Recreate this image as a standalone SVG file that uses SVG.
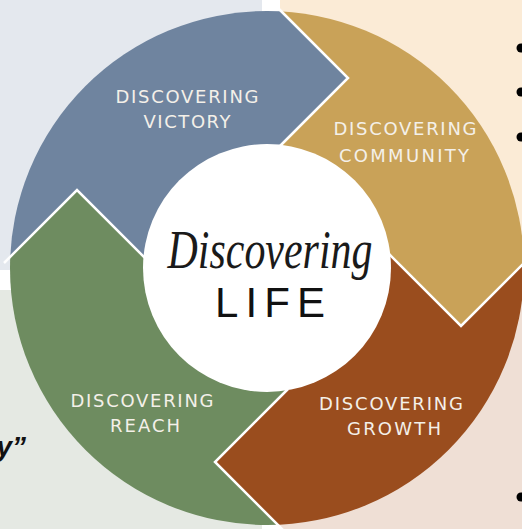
<svg xmlns="http://www.w3.org/2000/svg" width="522" height="529" viewBox="0 0 522 529">
<style>
.lbl{font-family:"DejaVu Sans","Liberation Sans",sans-serif;font-size:18px;fill:#f4f0e9;text-anchor:middle}
.sep{fill:none;stroke:#ffffff;stroke-width:2.5;stroke-linejoin:miter}
.dot{fill:#000}
</style>
<defs>
<clipPath id="ring"><circle cx="267" cy="268" r="257"/></clipPath>
</defs>
<rect width="522" height="529" fill="#ffffff"/>
<rect x="0" y="0" width="262" height="270" fill="#e4e8ee"/>
<rect x="280" y="0" width="242" height="280" fill="#fbebd6"/>
<rect x="0" y="290" width="262" height="239" fill="#e5e9e3"/>
<rect x="280" y="290" width="242" height="239" fill="#efdfd5"/>
<circle class="dot" cx="521" cy="48" r="4.5"/>
<circle class="dot" cx="521" cy="92" r="4.5"/>
<circle class="dot" cx="521" cy="137" r="4.5"/>
<circle class="dot" cx="521" cy="497" r="4.5"/>
<text x="26" y="456" font-family="Liberation Sans, sans-serif" font-size="28" font-style="italic" font-weight="bold" fill="#111" text-anchor="end">y”</text>
<g clip-path="url(#ring)">
<g id="seg-victory">
<path d="M -73,340 L 77,190 L 197,310 L 267,268 L 248,178 L 348,78 L 198,-72 L -80,-72 L -80,340 Z" fill="#6f849f"/>
</g>
<g id="seg-community">
<path d="M 198,-72 L 348,78 L 248,178 L 267,268 L 351,216 L 461,326 L 611,176 L 611,-72 Z" fill="#c9a258"/>
</g>
<g id="seg-growth">
<path d="M 611,176 L 461,326 L 351,216 L 267,268 L 325,352 L 215,462 L 365,612 L 611,612 Z" fill="#9a4d1e"/>
</g>
<g id="seg-reach">
<path d="M 365,612 L 215,462 L 325,352 L 267,268 L 197,310 L 77,190 L -73,340 L -80,612 Z" fill="#6e8c60"/>
</g>
</g>
<g id="center">
<circle cx="267" cy="268" r="124" fill="#ffffff"/>
<text x="270" y="268" font-family="Liberation Serif, serif" font-style="italic" font-size="54" fill="#1a1a1a" text-anchor="middle" textLength="205" lengthAdjust="spacingAndGlyphs">Discovering</text>
<text x="270" y="317" font-family="Liberation Sans, sans-serif" font-size="42" fill="#111" text-anchor="middle" textLength="110" lengthAdjust="spacing">LIFE</text>
</g>
<g id="separators">
<polyline class="sep" points="277,7 348,78 276,150"/>
<polyline class="sep" points="388,253 461,326 532,255"/>
<polyline class="sep" points="288,389 215,462 285,532"/>
<polyline class="sep" points="4,263 77,190 149,262"/>
</g>
<g id="labels">
<text class="lbl" x="187" y="103" textLength="143" lengthAdjust="spacing">DISCOVERING</text>
<text class="lbl" x="187" y="128" textLength="87" lengthAdjust="spacing">VICTORY</text>
<text class="lbl" x="405" y="135" textLength="143" lengthAdjust="spacing">DISCOVERING</text>
<text class="lbl" x="404" y="162" textLength="130" lengthAdjust="spacing">COMMUNITY</text>
<text class="lbl" x="142" y="407" textLength="143" lengthAdjust="spacing">DISCOVERING</text>
<text class="lbl" x="145" y="432" textLength="70" lengthAdjust="spacing">REACH</text>
<text class="lbl" x="391" y="410" textLength="144" lengthAdjust="spacing">DISCOVERING</text>
<text class="lbl" x="394" y="435" textLength="94" lengthAdjust="spacing">GROWTH</text>
</g>
</svg>
